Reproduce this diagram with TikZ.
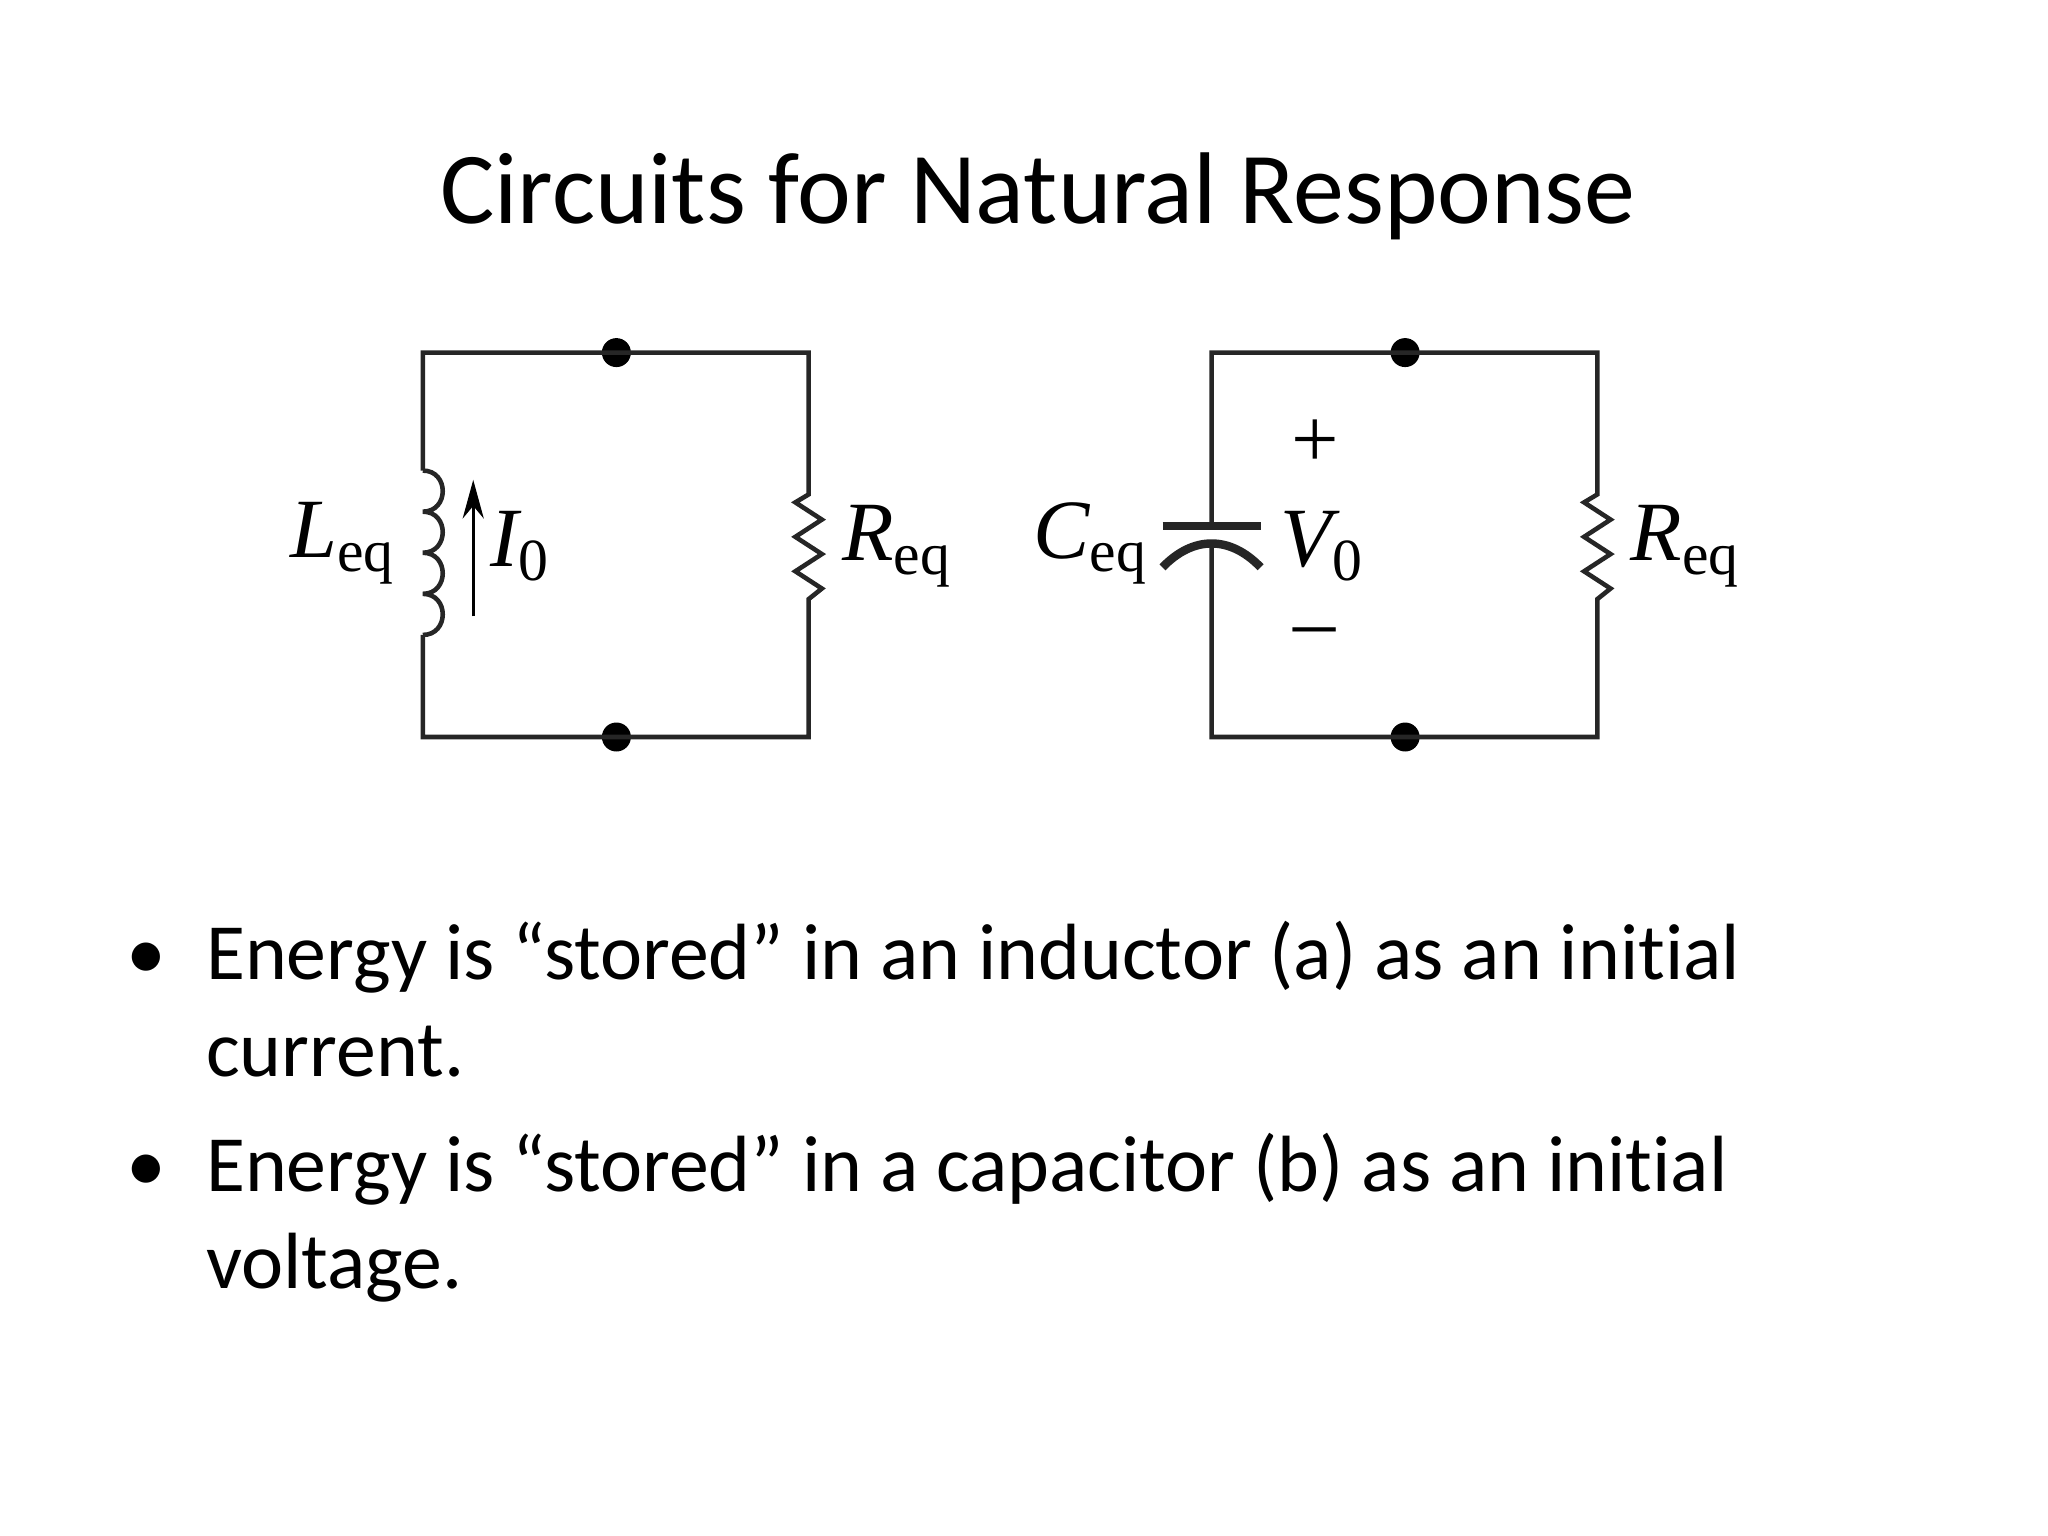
\documentclass[tikz,border=0pt]{standalone}
\usepackage{fontspec}
\setmainfont{Carlito}[Ligatures={NoCommon,NoRare,NoDiscretionary}]
\newfontfamily\lab{Liberation Serif}
\newcommand\mysb[1]{\raisebox{-0.35ex}{\lab\fontsize{17}{20}\selectfont\upshape #1}}
\usetikzlibrary{arrows.meta}
\begin{document}
\begin{tikzpicture}[x=0.0132557cm,y=-0.0132557cm,
  wire/.style={line width=1.3pt,black!85},
  dot/.style={circle,fill=black,inner sep=0pt,minimum size=0.29cm},
  lbl/.style={font=\lab\fontsize{24}{28}\selectfont\itshape,inner sep=0pt},
  bul/.style={font=\fontsize{22.7}{27}\selectfont,anchor=base west,inner sep=0pt}]
\useasboundingbox (0,0) rectangle (1545,1158.7);
\node[font=\fontsize{29}{34}\selectfont] (title) at (783,148) {Circuits for Natural Response};
% left circuit
\coordinate (a1) at (319,266); \coordinate (a2) at (610,266);
\coordinate (a3) at (610,556); \coordinate (a4) at (319,556);
\node[dot] (d1) at (465,266) {}; \node[dot] (d2) at (465,556) {};
\coordinate (ls) at (319,355); \coordinate (le) at (319,479);
\coordinate (rs) at (610,373); \coordinate (re) at (610,452);
\draw[wire] (ls) -- (a1) -- (a2) -- (rs)
  -- ++(-10,6) -- ++(20,13) -- ++(-20,13) -- ++(20,13) -- ++(-20,13) -- ++(20,13) -- (re)
  -- (a3) -- (a4) -- (le);
\draw[wire] (ls)
  .. controls (339,355) and (339,386) .. (319,386)
  .. controls (339,386) and (339,417) .. (319,417)
  .. controls (339,417) and (339,448) .. (319,448)
  .. controls (339,448) and (339,479) .. (le);
\coordinate (ia) at (357,465); \coordinate (ib) at (357,362);
\draw[line width=0.9pt,-{Stealth[length=11pt,width=6pt]}] (ia) -- (ib);
\node[lbl] (L) at (258,410) {L\mysb{eq}};
\node[lbl] (I) at (392,412) {I\mysb{0}};
\node[lbl] (R1) at (676,412) {R\mysb{eq}};
% right circuit
\coordinate (b1) at (914,266); \coordinate (b2) at (1205,266);
\coordinate (b3) at (1205,556); \coordinate (b4) at (914,556);
\node[dot] (d3) at (1060,266) {}; \node[dot] (d4) at (1060,556) {};
\coordinate (cp) at (914,397); \coordinate (cq) at (914,411);
\coordinate (rs2) at (1205,373); \coordinate (re2) at (1205,452);
\draw[wire] (cp) -- (b1) -- (b2) -- (rs2)
  -- ++(-10,6) -- ++(20,13) -- ++(-20,13) -- ++(20,13) -- ++(-20,13) -- ++(20,13) -- (re2)
  -- (b3) -- (b4) -- (cq);
\coordinate (p1) at (877,397); \coordinate (p2) at (951,397);
\draw[line width=2.4pt,black!85] (p1) -- (p2);
\coordinate (c1) at (877,428); \coordinate (c2) at (951,428);
\draw[line width=2.4pt,black!85] (c1) .. controls (900,404) and (928,404) .. (c2);
\node[lbl] (C) at (822,410) {C\mysb{eq}};
\node[font=\lab\fontsize{24}{28}\selectfont] (pl) at (992,335) {+};
\node[lbl] (V) at (997,412) {V\mysb{0}};
\node[font=\lab\fontsize{24}{28}\selectfont] (mi) at (992,482) {\textendash};
\node[lbl] (R2) at (1271,412) {R\mysb{eq}};
% bullets
\node[bul] (b1t) at (95,739) {•};
\node[bul] (t1) at (155,739) {Energy is “stored” in an inductor (a) as an initial};
\node[bul] (t2) at (155,812) {current.};
\node[bul] (b2t) at (95,899) {•};
\node[bul] (t3) at (155,899) {Energy is “stored” in a capacitor (b) as an initial};
\node[bul] (t4) at (155,972) {voltage.};
\end{tikzpicture}
\end{document}
